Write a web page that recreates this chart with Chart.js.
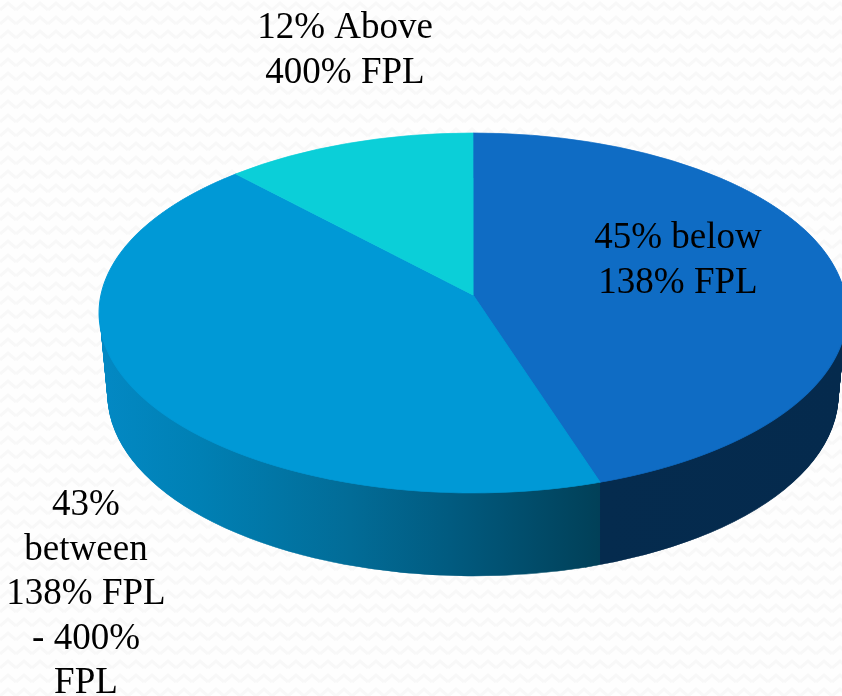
<!DOCTYPE html>
<html>
<head>
<meta charset="utf-8">
<title>Income distribution</title>
<style>
  html, body { margin: 0; padding: 0; width: 842px; height: 696px; overflow: hidden; }
  body {
    background-color: #fefefe;
    background-image: url("data:image/svg+xml,%3Csvg xmlns='http://www.w3.org/2000/svg' width='16' height='14'%3E%3Cpath d='M0 10L8 3L16 10' fill='none' stroke='%23f8f8f8' stroke-width='3'/%3E%3C/svg%3E");
  }
  canvas { display: block; }
</style>
<script src="https://cdn.jsdelivr.net/npm/chart.js@4/dist/chart.umd.js"></script>
</head>
<body>
<canvas id="pie" width="842" height="696"></canvas>
<script>
// ── Data ───────────────────────────────────────────
const categories = ['Below 138% FPL', '138% FPL - 400% FPL', 'Above 400% FPL'];
const shares     = [45, 43, 12];
const topColors  = ['#0f6cc4', '#0099d6', '#0bcfd8'];

const labelLines = [
  ['45% below', '138% FPL'],
  ['43%', 'between', '138% FPL', '- 400%', 'FPL'],
  ['12% Above', '400% FPL'],
];

// ── Layout of the tilted pie ───────────────────────
const FACE = { x: 473, y: 295, a: 372, b: 178.2, p: -0.1 };   // top face, apex + perspective
const RIM_TOP = { x: 473, y: 313, rx: 373, ry: 180 };
const RIM_BOT = { x: 473, y: 395, rx: 365, ry: 181 };
const LABEL_POS = [
  { x: 678, y: 248 },
  { x: 86, y: 515 },
  { x: 345, y: 38 },
];
const LINE_H = 44.5;

// gradient coords live in the layer's scaled space, toLocal converts page x
function sideGradient(ctx, splitX, toLocal) {
  const x0 = 100, x1 = 842;
  const g = ctx.createLinearGradient(toLocal(x0), 0, toLocal(x1), 0);
  const at = x => (x - x0) / (x1 - x0);
  g.addColorStop(0, '#0389c4');
  g.addColorStop(at(200), '#0080b4');
  g.addColorStop(at(350), '#026c97');
  g.addColorStop(at(450), '#015b80');
  g.addColorStop(at(splitX - 0.5), '#014058');
  g.addColorStop(at(splitX + 0.5), '#052b4e');
  g.addColorStop(1, '#052a4d');
  return g;
}

const tiltedPie = {
  id: 'tiltedPie',
  beforeDatasetsDraw(chart) {
    const ctx = chart.ctx;
    const arcs = chart.getDatasetMeta(0).data;
    const cx = arcs[0].x, cy = arcs[0].y, R = arcs[0].outerRadius;

    // x where the first slice ends, front edge of the top face
    const ang = arcs[0].endAngle;
    const splitX = FACE.x + FACE.a * Math.cos(ang) / (1 + FACE.p * Math.sin(ang));

    // side wall: stacked ellipses sharing the x gradient
    const ghosts = arcs.map(arc => {
      const g = Object.create(arc);
      g.options = Object.assign({}, arc.options);
      return g;
    });
    for (let t = 1; t >= 0; t -= 1 / 90) {
      const ex = RIM_TOP.x + (RIM_BOT.x - RIM_TOP.x) * t;
      const ey = RIM_TOP.y + (RIM_BOT.y - RIM_TOP.y) * t;
      const rx = RIM_TOP.rx + (RIM_BOT.rx - RIM_TOP.rx) * t;
      const ry = RIM_TOP.ry + (RIM_BOT.ry - RIM_TOP.ry) * t;
      const ox = ex - cx * rx / R;
      const grad = sideGradient(ctx, splitX, x => (x - ox) * R / rx);
      // only the front half of a layer can show
      ctx.save();
      ctx.beginPath();
      ctx.rect(0, ey, 842, 696 - ey);
      ctx.clip();
      ctx.translate(ox, ey - cy * ry / R);
      ctx.scale(rx / R, ry / R);
      ghosts.forEach(g => {
        g.options.backgroundColor = grad;
        g.options.borderColor = grad;
        g.draw(ctx);
      });
      ctx.restore();
    }

    // top face: one pixel row at a time so the apex sits off centre
    const yTop = Math.floor(-FACE.b / (1 - FACE.p)) - 1;
    const yBot = Math.ceil(FACE.b / (1 + FACE.p)) + 1;
    for (let row = yTop; row <= yBot; row++) {
      const ym = row + 0.5;
      const vm = ym / (FACE.b - FACE.p * ym);
      const w = 1 + FACE.p * vm;
      const sx = FACE.a / w / R;
      const sy = FACE.b / (w * w) / R;
      ctx.save();
      ctx.beginPath();
      ctx.rect(0, FACE.y + row, 842, 1);
      ctx.clip();
      ctx.translate(FACE.x - sx * cx, FACE.y + ym - sy * (cy + R * vm));
      ctx.scale(sx, sy);
      arcs.forEach(a => a.draw(ctx));
      ctx.restore();
    }
    return false;
  },
  afterDraw(chart) {
    const ctx = chart.ctx;
    ctx.save();
    ctx.font = '37px "Liberation Serif"';
    ctx.fillStyle = '#000';
    ctx.textAlign = 'center';
    ctx.textBaseline = 'alphabetic';
    labelLines.forEach((lines, i) => {
      lines.forEach((line, j) => {
        ctx.fillText(line, LABEL_POS[i].x, LABEL_POS[i].y + j * LINE_H);
      });
    });
    ctx.restore();
  },
};

// ── Chart ──────────────────────────────────────────
new Chart(document.getElementById('pie'), {
  type: 'pie',
  data: {
    labels: categories,
    datasets: [{
      data: shares,
      backgroundColor: topColors,
      borderColor: topColors,
      borderWidth: 1,
    }],
  },
  options: {
    responsive: false,
    animation: false,
    plugins: {
      legend: { display: false },
      tooltip: { enabled: false },
    },
  },
  plugins: [tiltedPie],
});
</script>
</body>
</html>
